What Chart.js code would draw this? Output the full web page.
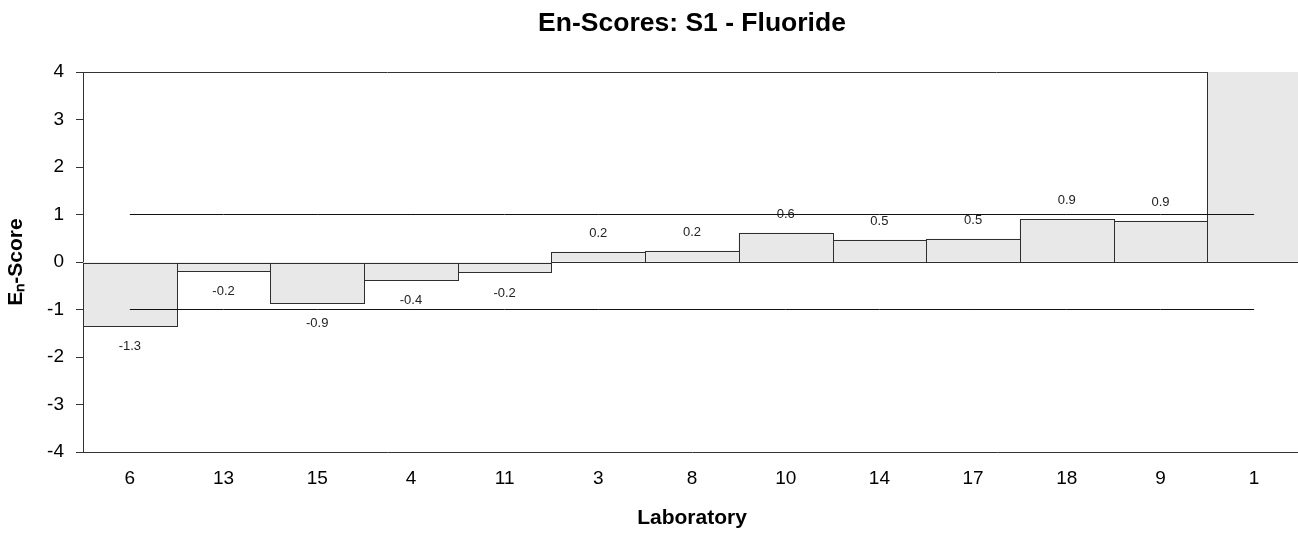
<!DOCTYPE html>
<html>
<head>
<meta charset="utf-8">
<script src="https://cdn.jsdelivr.net/npm/chart.js@4.4.1/dist/chart.umd.min.js"></script>
<style>
  html, body { margin: 0; padding: 0; overflow: hidden; background: #ffffff; }
  #wrap { width: 1298px; height: 533px; overflow: hidden; position: relative; }
  canvas { display: block; }
</style>
</head>
<body>
<div id="wrap"><canvas id="c" width="1310" height="533"></canvas></div>
<script>
// ---- Data ----
const laboratories = ['6', '13', '15', '4', '11', '3', '8', '10', '14', '17', '18', '9', '1'];
const enScores     = [-1.34, -0.18, -0.87, -0.38, -0.22, 0.21, 0.23, 0.61, 0.46, 0.48, 0.90, 0.86, 8.0];
const upperLimit   = [1, 1, 1, 1, 1, 1, 1, 1, 1, 1, 1, 1, 1];
const lowerLimit   = [-1, -1, -1, -1, -1, -1, -1, -1, -1, -1, -1, -1, -1];
const yMin = -4;
const yMax = 4;
const yStep = 1;
const chartTitle = 'En-Scores: S1 - Fluoride';
const xTitle = 'Laboratory';
const yTitle = 'E\u2099-Score';

Chart.defaults.font.family = '"Liberation Sans", Arial, Helvetica, sans-serif';
Chart.defaults.color = '#000';

const frameAndOutline = {
  id: 'frameAndOutline',
  beforeDatasetsDraw(chart) {
    const {ctx, chartArea} = chart;
    ctx.save();
    ctx.strokeStyle = '#333';
    ctx.lineWidth = 1;
    ctx.beginPath();
    const t = Math.round(chartArea.top) + 0.5;
    ctx.moveTo(Math.round(chartArea.left), t);
    ctx.lineTo(Math.round(chartArea.right), t);
    const r = Math.round(chartArea.right) - 0.5;
    ctx.moveTo(r, chartArea.top);
    ctx.lineTo(r, chartArea.bottom);
    ctx.stroke();
    ctx.restore();
  },
  afterDatasetDraw(chart, args) {
    if (args.index !== 0) return;
    const {ctx, chartArea} = chart;
    const meta = args.meta;
    ctx.save();
    ctx.beginPath();
    ctx.rect(chartArea.left, chartArea.top, chartArea.right - chartArea.left, chartArea.bottom - chartArea.top);
    ctx.clip();
    ctx.strokeStyle = '#2e2e2e';
    ctx.lineWidth = 1;
    meta.data.forEach(el => {
      const p = el.getProps(['x', 'y', 'base', 'width'], true);
      const l = Math.round(p.x - p.width / 2) + 0.5;
      const rr = Math.round(p.x + p.width / 2) + 0.5;
      const a = Math.round(Math.min(p.y, p.base)) + 0.5;
      const b = Math.round(Math.max(p.y, p.base)) + 0.5;
      ctx.strokeRect(l, a, rr - l, b - a);
    });
    ctx.restore();
  },
  afterDatasetsDraw(chart) {
    const {ctx, chartArea} = chart;
    const meta = chart.getDatasetMeta(0);
    const yScale = chart.scales.y;
    ctx.save();
    ctx.font = '13px "Liberation Sans", Arial, sans-serif';
    ctx.fillStyle = '#222';
    ctx.textAlign = 'center';
    ctx.textBaseline = 'middle';
    meta.data.forEach((el, i) => {
      const v = enScores[i];
      if (v > yScale.max || v < yScale.min) return;
      const p = el.getProps(['x', 'y'], true);
      const y = v >= 0 ? p.y - 19 : p.y + 20.5;
      ctx.fillText(v.toFixed(1), p.x, y);
    });
    // chart title, centred over the plot area
    ctx.font = 'bold 26.5px "Liberation Sans", Arial, sans-serif';
    ctx.fillStyle = '#000';
    ctx.fillText(chartTitle, (chartArea.left + chartArea.right) / 2, 24);
    ctx.restore();
  }
};

new Chart(document.getElementById('c'), {
  data: {
    labels: laboratories,
    datasets: [
      {
        type: 'bar',
        label: 'En-Score',
        data: enScores,
        backgroundColor: '#e8e8e8',
        borderWidth: 0,
        barPercentage: 1,
        categoryPercentage: 1,
        clip: 0,
        order: 2
      },
      {
        type: 'line',
        label: 'Upper',
        data: upperLimit,
        borderColor: '#111',
        borderWidth: 1,
        pointRadius: 0,
        fill: false,
        order: 1
      },
      {
        type: 'line',
        label: 'Lower',
        data: lowerLimit,
        borderColor: '#111',
        borderWidth: 1,
        pointRadius: 0,
        fill: false,
        order: 1
      }
    ]
  },
  options: {
    responsive: false,
    animation: false,
    devicePixelRatio: 1,
    layout: { padding: { left: 0, right: 9, top: 72, bottom: 0 } },
    plugins: {
      legend: { display: false },
      tooltip: { enabled: false },
      title: { display: false }
    },
    scales: {
      x: {
        type: 'category',
        offset: true,
        grid: { display: false, drawTicks: false },
        border: { display: true, color: '#333', width: 1 },
        ticks: { font: { size: 19 }, color: '#000', padding: 15, maxRotation: 0, autoSkip: false },
        title: { display: true, text: xTitle, color: '#000', font: { size: 21, weight: 'bold' }, padding: { top: 0, bottom: 2 } },
        afterFit(scale) { scale.height = 81; }
      },
      y: {
        min: yMin,
        max: yMax,
        ticks: { stepSize: yStep, font: { size: 19 }, color: '#000', padding: 12 },
        grid: { display: true, drawOnChartArea: false, drawTicks: true, tickLength: 7, color: '#333' },
        border: { display: true, color: '#333', width: 1 },
        title: { display: true, text: yTitle, color: '#000', font: { size: 21, weight: 'bold' }, padding: { top: 4, bottom: 0 } },
        afterFit(scale) { scale.width = 83; }
      }
    }
  },
  plugins: [frameAndOutline]
});
</script>
</body>
</html>
